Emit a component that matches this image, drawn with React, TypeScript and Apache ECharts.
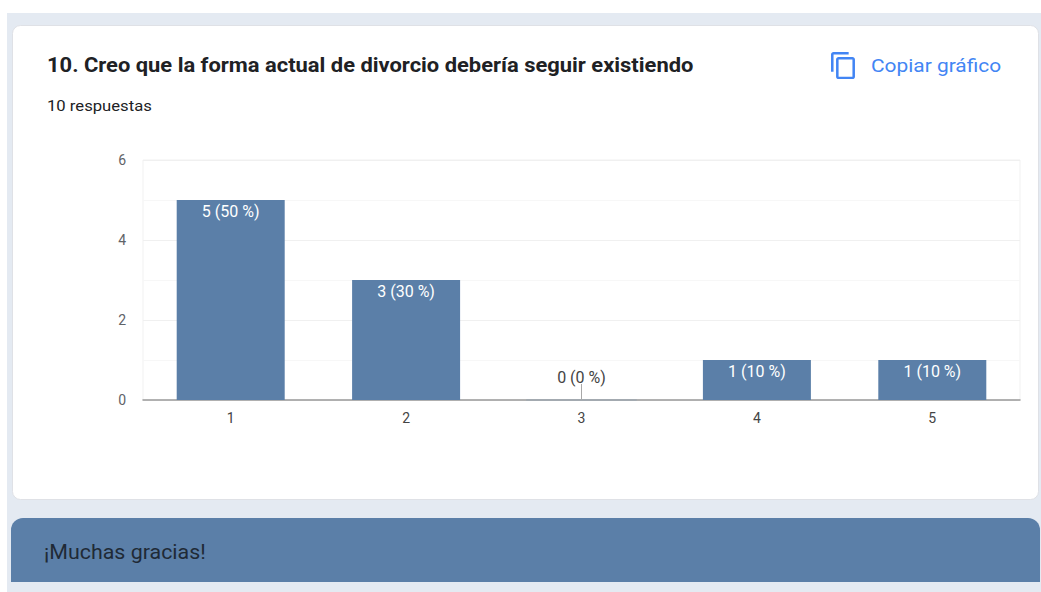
import React, { useEffect, useRef } from "react";
import * as echarts from "echarts";

const categories = ["1", "2", "3", "4", "5"];
const counts = [5, 3, 0, 1, 1];
const percents = [50, 30, 0, 10, 10];
const yTicks = [0, 2, 4, 6];
const titleText = "10. Creo que la forma actual de divorcio debería seguir existiendo";
const subtitleText = "10 respuestas";
const copyText = "Copiar gráfico";
const footerText = "¡Muchas gracias!";

const BLUE = "#5b7fa8";
const FONT = "Roboto, Arial, sans-serif";
const COPY_ICON =
  "M16 1H4c-1.1 0-2 .9-2 2v14h2V3h12V1zm3 4H8c-1.1 0-2 .9-2 2v14c0 1.1.9 2 2 2h11c1.1 0 2-.9 2-2V7c0-1.1-.9-2-2-2zm0 16H8V7h11v14z";

export default function App() {
  const ref = useRef<HTMLDivElement>(null);
  useEffect(() => {
    document.body.style.margin = "0";
    echarts.graphic.registerShape("copyIcon", echarts.graphic.extendPath(COPY_ICON as any, {}) as any);
    const chart = echarts.init(ref.current!, undefined, { renderer: "svg" });
    chart.setOption({
      animation: false,
      backgroundColor: "#ffffff",
      textStyle: { fontFamily: FONT },
      grid: { left: 143, right: 21, top: 160, bottom: 192, show: true, borderColor: "#f1f1f1", borderWidth: 1, containLabel: false },
      xAxis: {
        type: "category",
        data: categories,
        axisTick: { show: false },
        axisLine: { lineStyle: { color: "#9a9a9a", width: 1.5 } },
        axisLabel: { color: "#444444", fontSize: 14, margin: 11, fontFamily: FONT },
        splitLine: { show: false },
      },
      yAxis: {
        type: "value",
        min: 0,
        max: 6,
        interval: 2,
        axisLine: { show: false },
        axisTick: { show: false },
        axisLabel: {
          color: "#5f6368",
          fontSize: 14,
          margin: 17,
          fontFamily: FONT,
          formatter: (v: number) => (yTicks.includes(v) ? String(v) : ""),
        },
        splitLine: { show: true, lineStyle: { color: "#f0f0f0", width: 1 } },
        minorTick: { show: false, splitNumber: 2 },
        minorSplitLine: { show: true, lineStyle: { color: "#f7f7f7", width: 1 } },
      },
      series: [
        {
          type: "bar",
          barWidth: 108,
          data: counts.map((v) => ({
            value: v,
            itemStyle: { color: BLUE },
            label:
              v === 0
                ? { position: "top", distance: 15, color: "#444444" }
                : { position: "insideTop", distance: 3, color: "#ffffff" },
          })),
          label: {
            show: true,
            fontSize: 16,
            fontFamily: FONT,
            formatter: (p: any) => `${counts[p.dataIndex]} (${percents[p.dataIndex]} %)`,
          },
          markLine: {
            silent: true,
            symbol: "none",
            label: { show: false },
            lineStyle: { color: "#a8a8a8", width: 1, type: "solid" },
            data: counts
              .map((v, i) => ({ v, i }))
              .filter((d) => d.v === 0)
              .map((d) => [
                { coord: [categories[d.i], 0] },
                { coord: [categories[d.i], 0.4] },
              ]),
          },
        },
        {
          type: "custom",
          silent: true,
          z: 3,
          data: counts.map((v, i) => [i, v]).filter((d) => d[1] === 0),
          encode: { x: 0, y: 1 },
          renderItem: (_p: any, api: any) => {
            const [cx, cy] = api.coord([api.value(0), api.value(1)]);
            const half = api.size([1, 0])[0] * 0.315;
            return {
              type: "line",
              shape: { x1: cx - half, y1: cy, x2: cx + half, y2: cy },
              style: { stroke: "#a3aab0", lineWidth: 2 },
            };
          },
        },
      ],
      graphic: [
        { type: "rect", z: -30, silent: true, shape: { x: 7, y: 13, width: 1034, height: 579 }, style: { fill: "#e4eaf2" } },
        { type: "rect", z: -20, silent: true, shape: { x: 12.5, y: 25.5, width: 1026, height: 474, r: 8 }, style: { fill: "#ffffff", stroke: "#dfe1e6", lineWidth: 1 } },
        { type: "rect", z: -20, silent: true, shape: { x: 11, y: 518, width: 1029, height: 64, r: [12, 12, 0, 0] }, style: { fill: BLUE } },
        { type: "text", x: 47, y: 65, scaleX: 1.044, style: { text: titleText, font: `700 21px ${FONT}`, fill: "#202124", verticalAlign: "middle" } },
        { type: "text", x: 47, y: 106, scaleX: 1.19, style: { text: subtitleText, font: `400 14px ${FONT}`, fill: "#202124", verticalAlign: "middle" } },
        { type: "text", x: 871, y: 65, scaleX: 1.1, style: { text: copyText, font: `400 19px ${FONT}`, fill: "#4285f4", verticalAlign: "middle" } },
        { type: "text", x: 44, y: 552, scaleX: 1.07, style: { text: footerText, font: `400 20px ${FONT}`, fill: "#1f2a36", verticalAlign: "middle" } },
        { type: "copyIcon", x: 828.5, y: 50.8, scaleX: 1.26, scaleY: 1.23, style: { fill: "#4285f4" } },
      ],
    });
    return () => chart.dispose();
  }, []);
  return <div ref={ref} style={{ width: 1041, height: 592 }} />;
}
